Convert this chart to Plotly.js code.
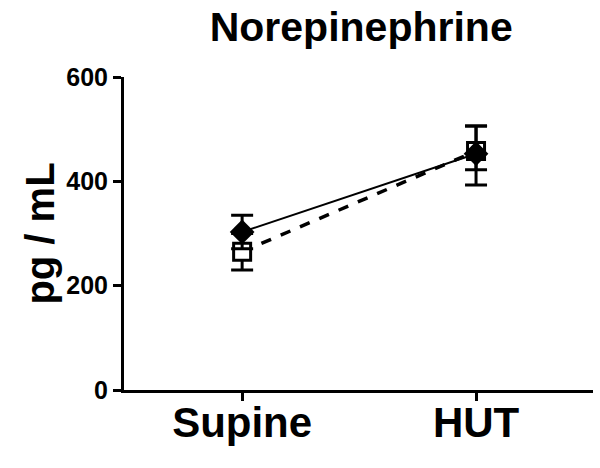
<!DOCTYPE html>
<html>
<head>
<meta charset="utf-8">
<script src="https://cdn.plot.ly/plotly-3.0.1.min.js"></script>
<style>html,body{margin:0;padding:0;background:#fff;}#chart{width:600px;height:468px;}</style>
</head>
<body>
<div id="chart"></div>
<script>
const categories = ["Supine", "HUT"];
const filledValues = [303, 453];
const filledErrorsUp = [32, 53];
const filledErrorsDown = [32, 60];
const openValues = [265, 458];
const openErrorsUp = [35, 48];
const openErrorsDown = [35, 36];
const yTickValues = [0, 200, 400, 600];
const yTickLabels = ["0", "200", "400", "600"];

const traces = [
  {
    x: categories, y: openValues, type: "scatter", mode: "lines+markers",
    line: {color: "#000", width: 3.5, dash: "dash"},
    marker: {symbol: "square", size: 17, color: "#fff", line: {color: "#000", width: 3}},
    error_y: {type: "data", symmetric: false, array: openErrorsUp, arrayminus: openErrorsDown, visible: true, color: "#000", thickness: 3, width: 11},
    cliponaxis: false
  },
  {
    x: categories, y: filledValues, type: "scatter", mode: "lines+markers",
    line: {color: "#000", width: 2, dash: "solid"},
    marker: {symbol: "diamond", size: 19, color: "#000"},
    error_y: {type: "data", symmetric: false, array: filledErrorsUp, arrayminus: filledErrorsDown, visible: true, color: "#000", thickness: 3, width: 11},
    cliponaxis: false
  }
];

const layout = {
  width: 600, height: 468,
  margin: {l: 124, r: 7, t: 77, b: 78},
  paper_bgcolor: "#fff", plot_bgcolor: "#fff",
  showlegend: false,
  font: {family: "Liberation Sans, Arial, sans-serif", color: "#000"},
  title: {text: "<b>Norepinephrine</b>", font: {size: 41, color: "#000"}, xref: "container", yref: "container", x: 0.602, xanchor: "center", y: 0.942, yanchor: "middle"},
  xaxis: {
    type: "category", range: [-0.505, 1.5],
    showline: true, linecolor: "#000", linewidth: 3,
    ticks: "outside", ticklen: 8, tickwidth: 3, tickcolor: "#000",
    ticklabelstandoff: -14,
    showgrid: false, zeroline: false,
    tickfont: {size: 42, color: "#000", family: "Liberation Sans, Arial, sans-serif", weight: "bold"}
  },
  yaxis: {
    range: [0, 600], tickvals: yTickValues, ticktext: yTickLabels,
    showline: true, linecolor: "#000", linewidth: 3,
    ticks: "outside", ticklen: 8, tickwidth: 3, tickcolor: "#000",
    showgrid: false, zeroline: false,
    tickfont: {size: 25, color: "#000", weight: "bold"},
    title: {text: "<b>pg / mL</b>", font: {size: 40, color: "#000"}, standoff: 0}
  }
};

Plotly.newPlot("chart", traces, layout, {displayModeBar: false, staticPlot: true});
</script>
</body>
</html>
